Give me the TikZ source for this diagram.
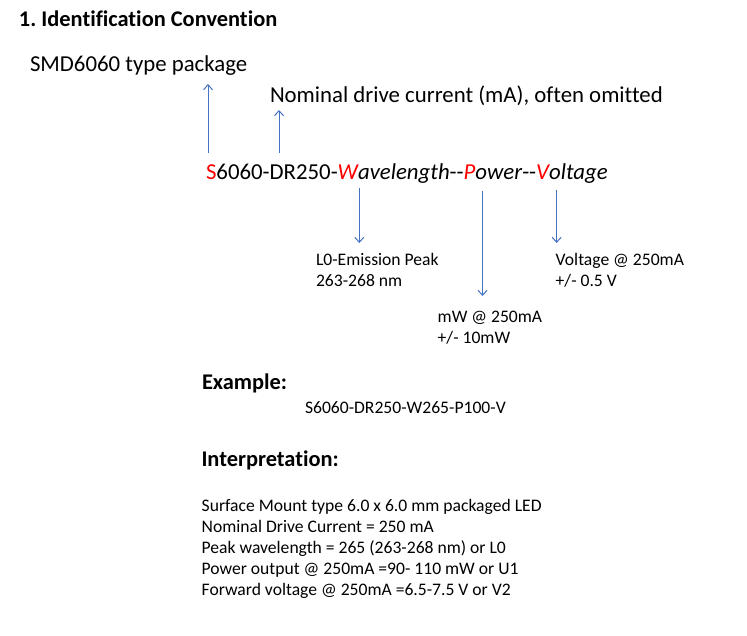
\documentclass[tikz,border=0pt]{standalone}
\usepackage{fontspec}
\setmainfont[Ligatures={NoCommon}]{Carlito}
\usetikzlibrary{arrows.meta}
\definecolor{arrblue}{HTML}{4472C4}
\definecolor{codered}{HTML}{FF0000}
\frenchspacing
\tikzset{
  lbl/.style={anchor=base west, inner sep=0pt, outer sep=0pt},
  big/.style={lbl, font=\fontsize{22.8}{27}\selectfont},
  small/.style={lbl, font=\fontsize{17.6}{20.5}\selectfont, align=left},
  head/.style={lbl, font=\fontsize{22.4}{26}\selectfont\bfseries},
  conn/.style={draw=arrblue, line width=1pt, -{Straight Barb[length=5pt,width=9pt]}},
}
\begin{document}
\begin{tikzpicture}[x=1pt,y=-1pt]
\useasboundingbox[fill=white] (0,0) rectangle (747,635);
\node[head] (title) at (19,26.7) {1. Identification Convention};
\node[big] (pkg) at (30,71.7) {SMD6060 type package};
\node[big] (nom) at (270,102) {Nominal drive current (mA), often omitted};
\node[big] (code) at (206,179.3) {\textcolor{codered}{S}6060-DR250-\textit{\textcolor{codered}{W}avelength}-{}-\textit{\textcolor{codered}{P}ower}-{}-\textit{\textcolor{codered}{V}oltage}};
\node[small] (peak) at (316,286.2) {L0-Emission Peak\\263-268 nm};
\node[small] (volt) at (555.7,286.2) {Voltage @ 250mA\\+/- 0.5 V};
\node[small] (mw) at (437.7,343.3) {mW @ 250mA\\+/- 10mW};
\node[head] (ex) at (202,389.3) {Example:};
\node[small] (exv) at (305,413.3) {S6060-DR250-W265-P100-V};
\node[head] (interp) at (201.5,466) {Interpretation:};
\node[small] (l1) at (201.7,511.7) {Surface Mount type 6.0 x 6.0 mm packaged LED};
\node[small] (l2) at (201.7,532.7) {Nominal Drive Current = 250 mA};
\node[small] (l3) at (201.7,553.7) {Peak wavelength = 265 (263-268 nm) or L0};
\node[small] (l4) at (201.7,574.7) {Power output @ 250mA =90- 110 mW or U1};
\node[small] (l5) at (201.7,595.7) {Forward voltage @ 250mA =6.5-7.5 V or V2};
\coordinate (a1s) at (208,153);
\coordinate (a1e) at (208,84);
\coordinate (a2s) at (279,153);
\coordinate (a2e) at (279,110);
\coordinate (a3s) at (359.3,188);
\coordinate (a3e) at (359.3,243);
\coordinate (a4s) at (482.5,190.7);
\coordinate (a4e) at (482.5,296);
\coordinate (a5s) at (556.7,190);
\coordinate (a5e) at (556.7,243);
\draw[conn] (a1s) -- (a1e);
\draw[conn] (a2s) -- (a2e);
\draw[conn] (a3s) -- (a3e);
\draw[conn] (a4s) -- (a4e);
\draw[conn] (a5s) -- (a5e);
\end{tikzpicture}
\end{document}
